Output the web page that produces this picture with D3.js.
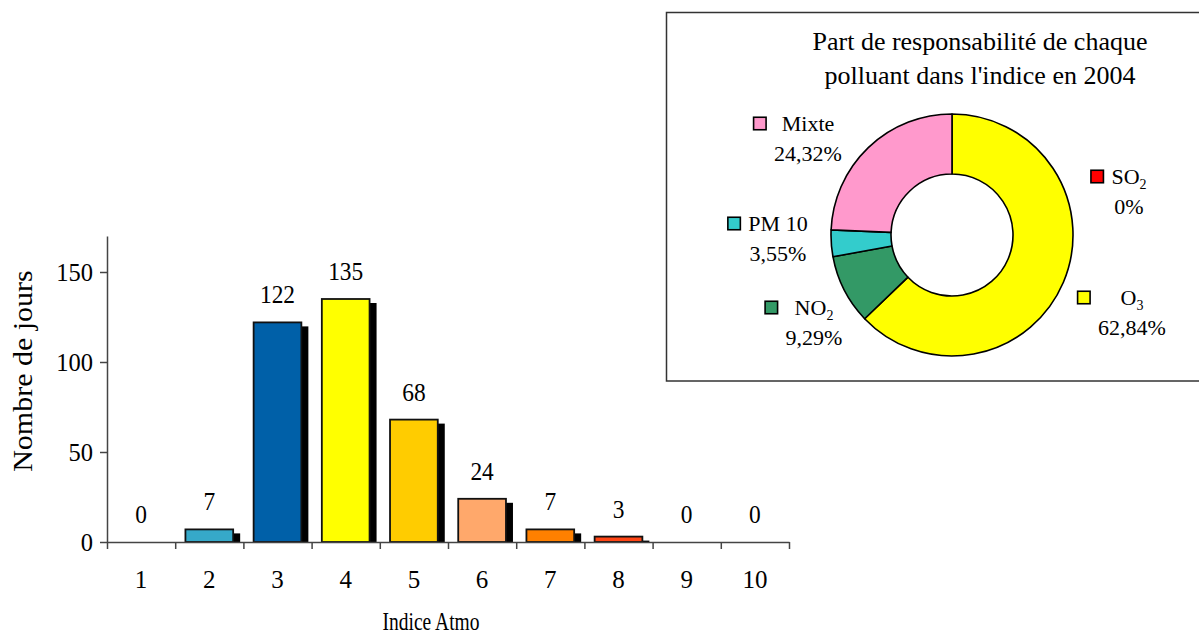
<!DOCTYPE html>
<html>
<head>
<meta charset="utf-8">
<script src="https://cdn.jsdelivr.net/npm/d3@7"></script>
<style>
  html, body { margin: 0; padding: 0; background: #fff; }
  svg { display: block; font-family: "Liberation Serif", "Times New Roman", serif; }
</style>
</head>
<body>
<svg id="chart" width="1199" height="637"></svg>
<script>
// Distribution of days per Atmo index value
const indices = ["1", "2", "3", "4", "5", "6", "7", "8", "9", "10"];
const days = [0, 7, 122, 135, 68, 24, 7, 3, 0, 0];
const barColors = ["#00B0F0", "#36A9C9", "#0060A8", "#FFFF00", "#FFCC00",
                   "#FFA86B", "#FF8000", "#FF4515", "#FF0000", "#C00000"];
const yTicks = [0, 50, 100, 150];

// Share of each pollutant in the index, 2004
const pollutants = ["O3", "NO2", "PM 10", "Mixte", "SO2"];
const shares = [62.84, 9.29, 3.55, 24.32, 0];
const pollutantColors = ["#FFFF00", "#339966", "#33CCCC", "#FF99CC", "#FF0000"];
const pieTitle = ["Part de responsabilité de chaque", "polluant dans l'indice en 2004"];

const svg = d3.select("#chart");
const FONT = '"Liberation Serif", "Times New Roman", serif';

// text placed at (x, y) with optional rotation and non-uniform glyph scaling
function addText(parent, x, y, str, opt) {
  const o = Object.assign({ size: 22, kx: 1, ky: 1, anchor: "middle", rotate: 0 }, opt);
  const g = parent.append("g")
    .attr("transform", `translate(${x},${y})` + (o.rotate ? ` rotate(${o.rotate})` : "") + ` scale(${o.kx},${o.ky})`);
  return g.append("text")
    .attr("text-anchor", o.anchor)
    .attr("font-size", o.size)
    .attr("font-family", FONT)
    .attr("fill", "#000")
    .text(str);
}

// ---------------- Bar chart ----------------
const x = d3.scaleBand().domain(indices).range([107, 789]).paddingInner(0.3).paddingOuter(0.15);
const xEdges = d3.scaleLinear().domain([0, indices.length]).range([107, 789]);
const y = d3.scaleLinear().domain([0, 170]).range([542, 236]);

const bars = svg.append("g");
const barData = indices.map((k, i) => ({ k, v: days[i], c: barColors[i] }));

// drop shadows behind the bars
bars.selectAll("rect.shadow")
  .data(barData.filter(d => d.v > 0))
  .join("rect")
  .attr("class", "shadow")
  .attr("x", d => x(d.k) + 7)
  .attr("y", d => y(d.v) + 4)
  .attr("width", x.bandwidth())
  .attr("height", d => Math.max(0, y(0) - y(d.v) - 4))
  .attr("fill", "#000");

bars.selectAll("rect.bar")
  .data(barData.filter(d => d.v > 0))
  .join("rect")
  .attr("class", "bar")
  .attr("x", d => x(d.k))
  .attr("y", d => y(d.v))
  .attr("width", x.bandwidth())
  .attr("height", d => y(0) - y(d.v))
  .attr("fill", d => d.c)
  .attr("stroke", "#111")
  .attr("stroke-width", 1.8);

// axes
const axisColor = "#444";
const yAxis = svg.append("g").attr("transform", "translate(107,0)")
  .call(d3.axisLeft(y).tickValues(yTicks).tickSize(7).tickSizeOuter(0).tickFormat(""));
const xAxis = svg.append("g").attr("transform", `translate(0,${y(0)})`)
  .call(d3.axisBottom(xEdges).tickValues(d3.range(indices.length + 1)).tickSize(7).tickSizeOuter(0).tickFormat(""));
[yAxis, xAxis].forEach(a => {
  a.select(".domain").attr("stroke", axisColor).attr("stroke-width", 1.5);
  a.selectAll(".tick line").attr("stroke", axisColor).attr("stroke-width", 1.5);
});

yTicks.forEach(t => addText(svg, 93, y(t) + 8.5, String(t), { size: 25, kx: 0.98, anchor: "end" }));
indices.forEach(k => addText(svg, x(k) + x.bandwidth() / 2, 588, k, { size: 25, kx: 1 }));

// value labels
barData.forEach(d => addText(svg, x(d.k) + x.bandwidth() / 2, y(d.v) - 19, String(d.v), { size: 26, kx: 0.9 }));

// axis titles
addText(svg, 32, 371, "Nombre de jours", { size: 30, rotate: -90, ky: 0.88 });
addText(svg, 431, 630, "Indice Atmo", { size: 25, kx: 0.78 });

// ---------------- Donut chart ----------------
const panel = svg.append("g");
panel.append("rect")
  .attr("x", 666.5).attr("y", 12.5).attr("width", 545).attr("height", 368.5)
  .attr("fill", "#fff").attr("stroke", "#333").attr("stroke-width", 1.5);

pieTitle.forEach((line, i) => addText(panel, 980, 50 + i * 34, line, { size: 26 }));

const cx = 952, cy = 235;
const pie = d3.pie().sort(null).value(d => d.v).startAngle(0).endAngle(2 * Math.PI);
const pieData = pollutants.map((n, i) => ({ n, v: shares[i], c: pollutantColors[i] }));
const arcs = pie(pieData);
const arc = d3.arc().innerRadius(61).outerRadius(121);

panel.append("g").attr("transform", `translate(${cx},${cy})`)
  .selectAll("path")
  .data(arcs.filter(a => a.data.v > 0))
  .join("path")
  .attr("d", arc)
  .attr("fill", a => a.data.c)
  .attr("stroke", "#000")
  .attr("stroke-width", 1.6)
  .attr("stroke-linejoin", "round");

// data labels: name with colour key, percentage underneath (offsets from the donut centre)
const labelLayout = {
  "O3":    { dx: 180, dy: 70 },
  "NO2":   { dx: -138, dy: 80 },
  "PM 10": { dx: -174, dy: -4 },
  "Mixte": { dx: -144, dy: -104 },
  "SO2":   { dx: 177, dy: -51 }
};
const pct = v => (v === 0 ? "0" : v.toFixed(2).replace(".", ",")) + "%";

arcs.forEach(a => {
  const L = labelLayout[a.data.n];
  const lx = cx + L.dx, ly = cy + L.dy;
  const g = panel.append("g");
  const name = g.append("text")
    .attr("x", lx).attr("y", ly)
    .attr("text-anchor", "middle")
    .attr("font-size", 22).attr("font-family", FONT);
  const m = a.data.n.match(/^([A-Z]+)(\d)$/);
  if (m) {
    name.append("tspan").text(m[1]);
    name.append("tspan").attr("font-size", 14).attr("dy", 5).text(m[2]);
  } else {
    name.text(a.data.n);
  }
  const p = g.append("text")
    .attr("x", lx).attr("y", ly + 30)
    .attr("text-anchor", "middle")
    .attr("font-size", 22).attr("font-family", FONT)
    .text(pct(a.data.v));
  const w = Math.max(name.node().getComputedTextLength(), p.node().getComputedTextLength());
  const s = 12.5;
  g.append("rect")
    .attr("x", lx - w / 2 - 8 - s)
    .attr("y", ly - 7.5 - s / 2)
    .attr("width", s).attr("height", s)
    .attr("fill", a.data.c)
    .attr("stroke", "#000").attr("stroke-width", 1.6);
});
</script>
</body>
</html>
